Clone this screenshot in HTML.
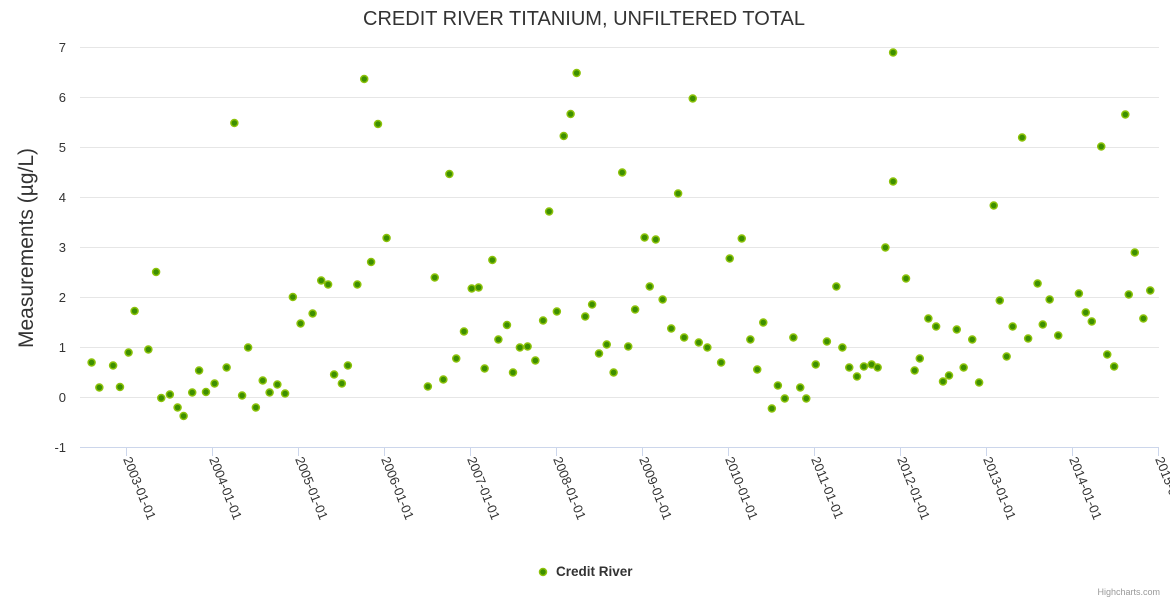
<!DOCTYPE html>
<html><head><meta charset="utf-8"><style>
body{margin:0;background:#fff;font-family:"Liberation Sans",sans-serif;}
svg text{font-family:"Liberation Sans",sans-serif;}
</style></head><body>
<svg id="chart" width="1170" height="600" xmlns="http://www.w3.org/2000/svg">
<rect width="1170" height="600" fill="#fff"/>
<text x="584" y="25" text-anchor="middle" font-size="20" fill="#333">CREDIT RIVER TITANIUM, UNFILTERED TOTAL</text>
<text transform="translate(33,248) rotate(-90)" text-anchor="middle" font-size="21" fill="#333">Measurements (µg/L)</text>
<g id="grid"></g><g id="yticks"></g><g id="xticks"></g><g id="points"></g>
<g>
<circle cx="543" cy="572" r="3.5" fill="#3d8f00" stroke="#8cc20a" stroke-width="1.5"/>
<text x="556" y="576" font-size="13.5" font-weight="bold" fill="#333">Credit River</text>
</g>
<text x="1160" y="595" text-anchor="end" font-size="9" fill="#999">Highcharts.com</text>
</svg>
<script>
const yTicks=[-1,0,1,2,3,4,5,6,7];
const xTickYears=[2003,2004,2005,2006,2007,2008,2009,2010,2011,2012,2013,2014,2015];
const xTickLabels=["2003-01-01","2004-01-01","2005-01-01","2006-01-01","2007-01-01","2008-01-01","2009-01-01","2010-01-01","2011-01-01","2012-01-01","2013-01-01","2014-01-01","2015-01-01"];
const dates=[2002.60,2002.69,2002.85,2002.93,2003.03,2003.10,2003.26,2003.35,2003.41,2003.51,2003.60,2003.67,2003.77,2003.85,2003.93,2004.03,2004.17,2004.26,2004.35,2004.42,2004.51,2004.59,2004.67,2004.76,2004.85,2004.94,2005.03,2005.17,2005.27,2005.35,2005.42,2005.51,2005.58,2005.69,2005.77,2005.85,2005.93,2006.03,2006.51,2006.59,2006.69,2006.76,2006.84,2006.93,2007.02,2007.10,2007.17,2007.26,2007.33,2007.43,2007.50,2007.58,2007.67,2007.76,2007.85,2007.92,2008.01,2008.09,2008.17,2008.24,2008.34,2008.42,2008.50,2008.59,2008.67,2008.77,2008.84,2008.92,2009.03,2009.09,2009.16,2009.24,2009.34,2009.42,2009.49,2009.59,2009.66,2009.76,2009.92,2010.02,2010.16,2010.26,2010.34,2010.41,2010.51,2010.58,2010.66,2010.76,2010.84,2010.91,2011.02,2011.15,2011.26,2011.33,2011.41,2011.50,2011.58,2011.67,2011.74,2011.83,2011.92,2011.92,2012.07,2012.17,2012.23,2012.33,2012.42,2012.50,2012.57,2012.66,2012.74,2012.84,2012.92,2013.09,2013.16,2013.24,2013.31,2013.42,2013.49,2013.60,2013.66,2013.74,2013.84,2014.08,2014.16,2014.23,2014.34,2014.41,2014.49,2014.62,2014.66,2014.73,2014.83,2014.91];
const values=[0.69,0.19,0.63,0.2,0.89,1.72,0.95,2.5,-0.02,0.05,-0.21,-0.38,0.09,0.53,0.1,0.27,0.59,5.48,0.03,0.99,-0.21,0.33,0.09,0.25,0.07,2.0,1.47,1.67,2.33,2.25,0.45,0.27,0.63,2.25,6.36,2.7,5.46,3.18,0.21,2.39,0.35,4.46,0.77,1.31,2.17,2.19,0.57,2.74,1.15,1.44,0.49,0.99,1.01,0.73,1.53,3.71,1.71,5.22,5.66,6.48,1.61,1.85,0.87,1.05,0.49,4.49,1.01,1.75,3.19,2.21,3.15,1.95,1.37,4.07,1.19,5.97,1.09,0.99,0.69,2.77,3.17,1.15,0.55,1.49,-0.23,0.23,-0.03,1.19,0.19,-0.03,0.65,1.11,2.21,0.99,0.59,0.41,0.61,0.65,0.59,2.99,6.89,4.31,2.37,0.53,0.77,1.57,1.41,0.31,0.43,1.35,0.59,1.15,0.29,3.83,1.93,0.81,1.41,5.19,1.17,2.27,1.45,1.95,1.23,2.07,1.69,1.51,5.01,0.85,0.61,5.65,2.05,2.89,1.57,2.13];
const NS="http://www.w3.org/2000/svg";
const X0=80,X1=1159;
function xPos(yr){return 126+(yr-2003)*86;}
function yPos(v){return 397-v*50;}
function mk(tag,attrs,parent){const e=document.createElementNS(NS,tag);for(const k in attrs)e.setAttribute(k,attrs[k]);parent.appendChild(e);return e;}
const grid=document.getElementById('grid'),yt=document.getElementById('yticks'),xt=document.getElementById('xticks'),pts=document.getElementById('points');
yTicks.forEach(v=>{
  const y=yPos(v);
  if(v!==-1){const l=mk('line',{x1:X0,x2:X1,y1:y+0.5,y2:y+0.5,stroke:'#e6e6e6','stroke-width':1},grid);
  
  }
  const t=mk('text',{x:66,y:y+5,'text-anchor':'end','font-size':13,fill:'#333'},yt);
  t.textContent=v;
  
  
});
const ax=mk('line',{x1:X0,x2:X1,y1:447.5,y2:447.5,stroke:'#ccd6eb','stroke-width':1},xt);


xTickYears.forEach((yr,i)=>{
  const x=xPos(yr);
  const tk=mk('line',{x1:x+0.5,x2:x+0.5,y1:447,y2:456,stroke:'#ccd6eb','stroke-width':1},xt);
  
  
  const t=mk('text',{transform:'translate('+(x-3)+',459) rotate(68)','font-size':13,fill:'#333'},xt);
  t.textContent=xTickLabels[i];
  
  
});
dates.forEach((d,i)=>{
  const c=mk('circle',{cx:xPos(d),cy:yPos(values[i]),r:3.5,fill:'#3d8f00',stroke:'#8cc20a','stroke-width':1.5},pts);
  
  
});
</script>
</body></html>
